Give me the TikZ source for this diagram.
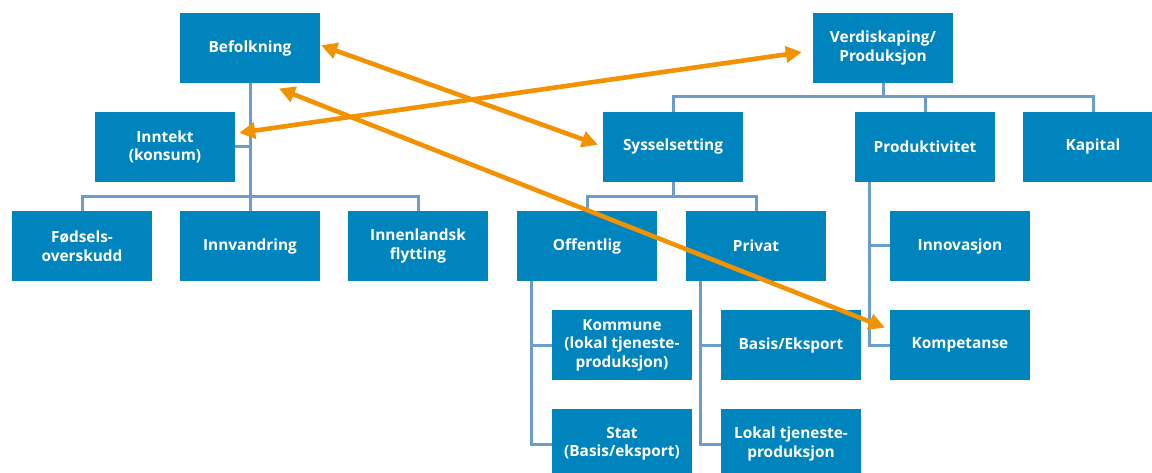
\documentclass[tikz,border=0pt]{standalone}
\usepackage{fontspec}
\setmainfont{Open Sans}[BoldFont={* Bold}]
\usetikzlibrary{positioning, arrows.meta}
\definecolor{boxblue}{RGB}{0,132,190}
\definecolor{treeblue}{RGB}{108,156,204}
\definecolor{linkorange}{RGB}{243,146,0}

\begin{document}
\begin{tikzpicture}[x=1pt, y=-1pt, font=\fontsize{15.4}{18.5}\selectfont\bfseries,
  factor/.style={rectangle, fill=boxblue, text=white, minimum width=140pt, minimum height=70pt,
                 inner sep=1pt, align=center},
  tree/.style={draw=treeblue, line width=3pt},
  link/.style={{Triangle[length=16pt, width=16pt]}-{Triangle[length=16pt, width=16pt]},
               draw=linkorange, line width=4.6pt, shorten <=1pt, shorten >=1pt},
]
  \clip (0,0) rectangle (1152,473);
  % top level
  \node[factor] (bef)  at (250,48)  {Befolkning};
  \node[factor] (verd) at (883,48)  {Verdiskaping/\\Produksjon};
  % second row
  \node[factor] (innt) at (165,147) {Inntekt\\(konsum)};
  \node[factor] (sys)  at (673,147) {Sysselsetting};
  \node[factor] (prod) at (925,147) {Produktivitet};
  \node[factor] (kap)  at (1093,147) {Kapital};
  % third row
  \node[factor] (fod)  at (82,246)  {Fødsels-\\overskudd};
  \node[factor] (innv) at (250,246) {Innvandring};
  \node[factor] (flyt) at (418,246) {Innenlandsk\\flytting};
  \node[factor] (off)  at (587,246) {Offentlig};
  \node[factor] (priv) at (756,246) {Privat};
  \node[factor] (innov) at (960,246) {Innovasjon};
  % fourth and fifth row
  \node[factor] (kom)  at (622,345) {Kommune\\(lokal tjeneste-\\produksjon)};
  \node[factor] (bas)  at (791,345) {Basis/Eksport};
  \node[factor] (komp) at (960,345) {Kompetanse};
  \node[factor] (stat) at (622,444) {Stat\\(Basis/eksport)};
  \node[factor] (lok)  at (791,444) {Lokal tjeneste-\\produksjon};

  % hierarchy
  \coordinate (bj) at (250,197);
  \draw[tree] (bef.south) -- (bj);
  \draw[tree] (innt.east) -- (innt.east -| bj);
  \draw[tree] (fod.north) |- (bj) -| (flyt.north);
  \draw[tree] (innv.north) -- (bj);
  \coordinate (vj) at (883,97);
  \draw[tree] (verd.south) -- (vj);
  \draw[tree] (sys.north) |- (vj) -| (kap.north);
  \draw[tree] (prod.north) -- (prod.north |- vj);
  \coordinate (sj) at (673,197);
  \draw[tree] (sys.south) -- (sj);
  \draw[tree] (off.north) |- (sj) -| (priv.north);
  \draw[tree] ([xshift=-56pt]off.south) |- (stat.west);
  \draw[tree] (kom.west) -- ++(-21,0);
  \draw[tree] ([xshift=-56pt]priv.south) |- (lok.west);
  \draw[tree] (bas.west) -- ++(-21,0);
  \draw[tree] ([xshift=-56pt]prod.south) |- (komp.west);
  \draw[tree] (innov.west) -- ++(-21,0);

  % links across the two trees
  \draw[link] ([yshift=3pt]bef.east) -- ([xshift=-4pt, yshift=2pt]sys.west);
  \draw[link] ([xshift=3pt, yshift=14pt]innt.east) -- ([xshift=-10pt, yshift=-4pt]verd.west);
  \draw[link] ([xshift=28pt, yshift=-5pt]bef.south) -- ([xshift=-4pt, yshift=17pt]komp.west);
\end{tikzpicture}
\end{document}
